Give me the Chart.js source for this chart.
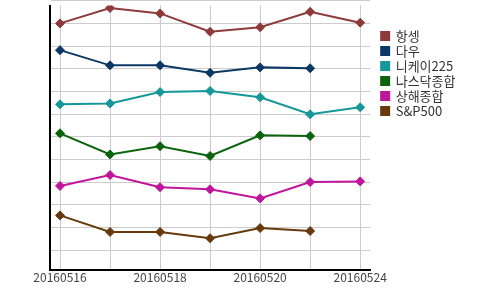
<!DOCTYPE html>
<html>
<head>
<meta charset="utf-8">
<script src="https://cdn.jsdelivr.net/npm/chart.js@4"></script>
<style>
  html, body { margin: 0; padding: 0; background: #fff; }
  #wrap { width: 500px; height: 290px; }
</style>
</head>
<body>
<div id="wrap"><canvas id="chart" width="500" height="290"></canvas></div>
<script>
const dates = ["20160516", "20160517", "20160518", "20160519", "20160520", "20160523", "20160524"];
const hangseng = [11.00, 11.68, 11.44, 10.63, 10.83, 11.51, 11.03];
const dow = [9.82, 9.15, 9.15, 8.82, 9.06, 9.02, null];
const nikkei = [7.43, 7.47, 7.97, 8.02, 7.74, 6.99, 7.30];
const nasdaq = [6.15, 5.22, 5.58, 5.15, 6.06, 6.03, null];
const shanghai = [3.83, 4.31, 3.77, 3.68, 3.28, 4.00, 4.03];
const sp500 = [2.53, 1.80, 1.80, 1.52, 1.97, 1.84, null];
const gridValues = [1, 2, 3, 4, 5, 6, 7, 8, 9, 10, 11, 12];

const FONT = "'Noto Sans CJK KR', 'Noto Sans', sans-serif";

function makeSeries(label, values, color) {
  return {
    label,
    data: values.map((v, i) => ({ x: i, y: v })),
    borderColor: color,
    backgroundColor: color,
    pointBackgroundColor: color,
    pointBorderColor: color,
    borderWidth: 2,
    pointStyle: "rectRot",
    pointRadius: 4.5,
    pointBorderWidth: 1,
    tension: 0,
    fill: false
  };
}

new Chart(document.getElementById("chart"), {
  type: "line",
  data: {
    datasets: [
      makeSeries("항셍", hangseng, "#8e3a3a"),
      makeSeries("다우", dow, "#0c3866"),
      makeSeries("니케이225", nikkei, "#16979a"),
      makeSeries("나스닥종합", nasdaq, "#0b640b"),
      makeSeries("상해종합", shanghai, "#c0169c"),
      makeSeries("S&P500", sp500, "#663a0c")
    ]
  },
  options: {
    responsive: false,
    animation: false,
    layout: { padding: { top: 0, right: 45, bottom: 0, left: 0 } },
    scales: {
      x: {
        type: "linear",
        min: -0.2,
        max: 6.2,
        afterBuildTicks: s => { s.ticks = dates.map((d, i) => ({ value: i })); },
        afterFit: s => { s.height = 20; },
        grid: { color: "#cccccc", lineWidth: 1, drawTicks: false },
        border: { display: true, color: "#000", width: 2 },
        ticks: {
          autoSkip: false,
          maxRotation: 0,
          padding: 0,
          color: "#444",
          font: { family: FONT, size: 12 },
          callback: v => (v % 2 === 0 ? dates[v] : "")
        }
      },
      y: {
        min: 0.12,
        max: 11.79,
        afterBuildTicks: s => { s.ticks = gridValues.map(v => ({ value: v })); },
        afterFit: s => { s.width = 50; },
        grid: { color: "#cccccc", lineWidth: 1, drawTicks: false },
        border: { display: true, color: "#000", width: 2 },
        ticks: { display: false }
      },
      gap: {
        type: "linear",
        position: "right",
        display: true,
        afterFit: s => { s.width = 9; },
        grid: { display: false },
        border: { display: false },
        ticks: { display: false }
      }
    },
    plugins: {
      legend: {
        position: "right",
        align: "start",
        title: { display: true, text: "", padding: { top: 13.1, bottom: 0 }, font: { family: FONT, size: 12 } },
        labels: {
          boxWidth: 8,
          boxHeight: 8,
          padding: 2,
          color: "#333",
          font: { family: FONT, size: 13 }
        }
      },
      tooltip: { enabled: false }
    }
  }
});
</script>
</body>
</html>
